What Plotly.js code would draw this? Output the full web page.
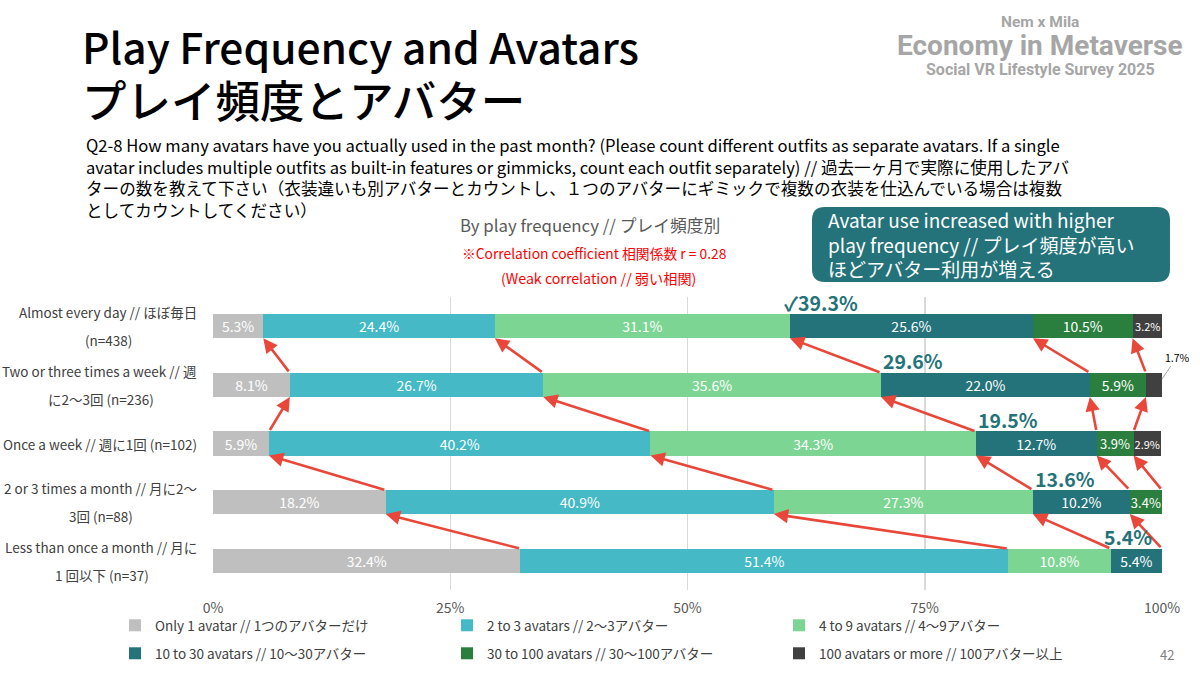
<!DOCTYPE html>
<html>
<head>
<meta charset="utf-8">
<script src="https://cdn.plot.ly/plotly-3.0.1.min.js"></script>
<style>
html, body { margin: 0; padding: 0; background: #fff; }
#chart { width: 1200px; height: 675px; }
</style>
</head>
<body>
<div id="chart"></div>
<script>
// rows, top to bottom (line 1 / line 2 of each label)
var rowLine1 = ['Almost every day // ほぼ毎日', 'Two or three times a week // 週', 'Once a week // 週に1回 (n=102)',
                '2 or 3 times a month // 月に2〜', 'Less than once a month // 月に'];
var rowLine2 = ['(n=438)', 'に2〜3回 (n=236)', '', '3回 (n=88)', '1 回以下 (n=37)'];
var rows = rowLine1.map(function (t, i) { return (t + ' ' + rowLine2[i]).trim(); });

var seriesNames = ['Only 1 avatar // 1つのアバターだけ', '2 to 3 avatars // 2〜3アバター', '4 to 9 avatars // 4〜9アバター',
                   '10 to 30 avatars // 10〜30アバター', '30 to 100 avatars // 30〜100アバター', '100 avatars or more // 100アバター以上'];
var seriesColors = ['#BFBFBF', '#45B9C5', '#7DD594', '#25737A', '#2A7F3E', '#404040'];

var only1   = [5.3, 8.1, 5.9, 18.2, 32.4];
var to3     = [24.4, 26.7, 40.2, 40.9, 51.4];
var to9     = [31.1, 35.6, 34.3, 27.3, 10.8];
var to30    = [25.6, 22.0, 12.7, 10.2, 5.4];
var to100   = [10.5, 5.9, 3.9, 3.4, 0];
var over100 = [3.2, 1.7, 2.9, 0, 0];
var series = [only1, to3, to9, to30, to100, over100];

var xTicks = [0, 25, 50, 75, 100];
var xTickText = ['0%', '25%', '50%', '75%', '100%'];

var FONT = '"Noto Sans CJK JP", "Noto Sans", "DejaVu Sans", sans-serif';

// plot area in page pixels, used to place the slide texts
var L = 213, R = 1162, T = 297, B = 590;
function px(x) { return (x - L) / (R - L); }
function py(y) { return (B - y) / (B - T); }

// cumulative share up to (not including) segment k, rounded so 100 stays on the axis
function cum(i, k) {
  var s = 0;
  for (var j = 0; j < k; j++) s += series[j][i];
  return Math.min(100, Math.round(s * 10) / 10);
}

var data = series.map(function (vals, k) {
  return {
    type: 'bar',
    orientation: 'h',
    name: seriesNames[k],
    x: vals,
    y: rows,
    marker: { color: seriesColors[k], line: { width: 0 } },
    text: vals.map(function (v) { return v >= 2 ? v.toFixed(1) + '%' : ''; }),
    textposition: 'inside',
    insidetextanchor: 'middle',
    textangle: 0,
    constraintext: 'none',
    insidetextfont: { color: '#fff', family: FONT,
                      size: vals.map(function (v) { return v < 3.3 ? 11 : (v < 4 ? 13 : 14); }) },
    legend: k < 3 ? 'legend' : 'legend2',
    hoverinfo: 'name+x'
  };
});

var ann = [];
function note(x, y, text, size, color, xanchor, extra) {
  var a = { xref: 'paper', yref: 'paper', x: px(x), y: py(y), text: text, showarrow: false,
            xanchor: xanchor || 'left', yanchor: 'middle', font: { family: FONT, size: size, color: color } };
  for (var key in extra) a[key] = extra[key];
  ann.push(a);
}

// titles
note(80, 45, 'Play Frequency and Avatars', 42.5, '#000', 'left', { font: { family: FONT, size: 42.5, color: '#000', weight: 500 } });
note(80, 99, 'プレイ頻度とアバター', 44.5, '#000', 'left', { font: { family: FONT, size: 44.5, color: '#000', weight: 500 } });

// logo
var logoFont = 'Roboto, "Liberation Sans", sans-serif';
note(1040, 22, 'Nem x Mila', 15, '#A6A6A6', 'center', { font: { family: logoFont, size: 15.5, color: '#A6A6A6', weight: 700 } });
note(1040, 46, 'Economy in Metaverse', 28, '#A6A6A6', 'center', { font: { family: logoFont, size: 28, color: '#A6A6A6', weight: 700 } });
note(1040, 69, 'Social VR Lifestyle Survey 2025', 16, '#A6A6A6', 'center', { font: { family: logoFont, size: 16, color: '#A6A6A6', weight: 700 } });

// question
note(84, 131,
  'Q2-8 How many avatars have you actually used in the past month? (Please count different outfits as separate avatars. If a single<br>' +
  'avatar includes multiple outfits as built-in features or gimmicks, count each outfit separately) // 過去一ヶ月で実際に使用したアバ<br>' +
  'ターの数を教えて下さい（衣装違いも別アバターとカウントし、１つのアバターにギミックで複数の衣装を仕込んでいる場合は複数<br>' +
  'としてカウントしてください）', 16.6, '#000', 'left', { yanchor: 'top', align: 'left' });

note(590, 225, 'By play frequency // プレイ頻度別', 16.8, '#595959', 'center');
note(594, 253, '※Correlation coefficient 相関係数 r = 0.28', 13.8, '#FF0000', 'center');
note(598, 278, '(Weak correlation // 弱い相関)', 14.2, '#FF0000', 'center');

// callout
note(826, 244, 'Avatar use increased with higher<br>play frequency // プレイ頻度が高い<br>ほどアバター利用が増える',
     19, '#fff', 'left', { align: 'left' });

note(1176, 654, '42', 13, '#7F7F7F', 'right');

// row labels (two lines, centred on each other, right edge at the axis)
var cv = document.createElement('canvas').getContext('2d');
cv.font = '13.5px "Noto Sans CJK JP"';
rows.forEach(function (r, i) {
  var base = { xref: 'paper', yref: 'y', y: i, showarrow: false, yanchor: 'middle',
               font: { family: FONT, size: 13.5, color: '#404040' } };
  var a1 = Object.assign({}, base, { x: px(199), xanchor: 'right', text: rowLine1[i] });
  if (rowLine2[i]) {
    var w1 = cv.measureText(rowLine1[i]).width;
    a1.yshift = 14;
    ann.push(a1);
    ann.push(Object.assign({}, base, { x: px(198 - w1 / 2), xanchor: 'center', yshift: -14, text: rowLine2[i] }));
  } else {
    ann.push(a1);
  }
});

// red arrows between matching boundaries of adjacent rows
var half = 0.205;
for (var i = 0; i < rows.length - 1; i++) {
  for (var k = 1; k <= 5; k++) {
    if (series[k - 1][i + 1] <= 0) continue;
    ann.push({ xref: 'x', yref: 'y', axref: 'x', ayref: 'y',
               x: cum(i, k), y: i + half, ax: cum(i + 1, k), ay: i + 1 - half,
               text: '', showarrow: true, arrowhead: 2, arrowsize: 1.1, arrowwidth: 2.6,
               arrowcolor: '#E8473A', standoff: 0, startstandoff: 0 });
  }
}

// totals of 10+ avatars
rows.forEach(function (r, i) {
  var total = to30[i] + to100[i] + over100[i];
  ann.push({ xref: 'x', yref: 'y', x: cum(i, 3), y: i - half, yshift: 12, xanchor: 'left', yanchor: 'middle',
             xshift: i === 0 ? -8 : (i === rows.length - 1 ? -9 : 0),
             text: (i === 0 ? '✓' : '') + total.toFixed(1) + '%', showarrow: false,
             font: { family: FONT, size: 19.5, color: '#25737A', weight: 700 } });
});

// small segments labelled outside the bar
series.forEach(function (vals, k) {
  vals.forEach(function (v, i) {
    if (v > 0 && v < 2) {
      ann.push({ xref: 'x', yref: 'y', x: cum(i, k + 1), y: i - 0.1, ax: 15, ay: -22,
                 text: v.toFixed(1) + '%', showarrow: true, arrowhead: 0, arrowwidth: 1, arrowcolor: '#A6A6A6',
                 font: { family: FONT, size: 10.5, color: '#000' } });
    }
  });
});

// rounded box behind the callout
function roundRect(x0, y0, x1, y1, r) {
  var rx = r / (R - L), ry = r / (B - T);
  var a = px(x0), b = px(x1), c = py(y0), d = py(y1);
  return 'M' + (a + rx) + ',' + c + ' L' + (b - rx) + ',' + c + ' Q' + b + ',' + c + ' ' + b + ',' + (c - ry) +
         ' L' + b + ',' + (d + ry) + ' Q' + b + ',' + d + ' ' + (b - rx) + ',' + d +
         ' L' + (a + rx) + ',' + d + ' Q' + a + ',' + d + ' ' + a + ',' + (d + ry) +
         ' L' + a + ',' + (c - ry) + ' Q' + a + ',' + c + ' ' + (a + rx) + ',' + c + ' Z';
}

var legendBase = {
  orientation: 'h', x: px(115), xanchor: 'left', yanchor: 'top',
  entrywidth: 287, traceorder: 'normal', bgcolor: 'rgba(0,0,0,0)',
  font: { size: 13.5, color: '#404040' }
};

var layout = {
  width: 1200,
  height: 675,
  margin: { l: L, r: 1200 - R, t: T, b: 675 - B, pad: 0, autoexpand: false },
  paper_bgcolor: '#fff',
  plot_bgcolor: '#fff',
  font: { family: FONT, color: '#404040' },
  barmode: 'stack',
  bargap: 0.59,
  showlegend: true,
  xaxis: {
    range: [0, 100], tickvals: xTicks, ticktext: xTickText, fixedrange: true,
    showgrid: true, gridcolor: '#D9D9D9', gridwidth: 1.5, zeroline: false, showline: false,
    ticks: '', ticklabelstandoff: 8, tickfont: { size: 14, color: '#595959' }
  },
  yaxis: {
    type: 'category', autorange: 'reversed', showticklabels: false, showgrid: false,
    zeroline: false, showline: false, ticks: '', fixedrange: true
  },
  legend: Object.assign({}, legendBase, { y: py(610) }),
  legend2: Object.assign({}, legendBase, { y: py(638) }),
  shapes: [{ type: 'path', xref: 'paper', yref: 'paper', path: roundRect(812, 207, 1170, 282, 13),
             fillcolor: '#25737A', line: { width: 0 }, layer: 'below' }],
  annotations: ann
};

var config = { responsive: false, displayModeBar: false, staticPlot: true };
Plotly.newPlot('chart', data, layout, config);
</script>
</body>
</html>
